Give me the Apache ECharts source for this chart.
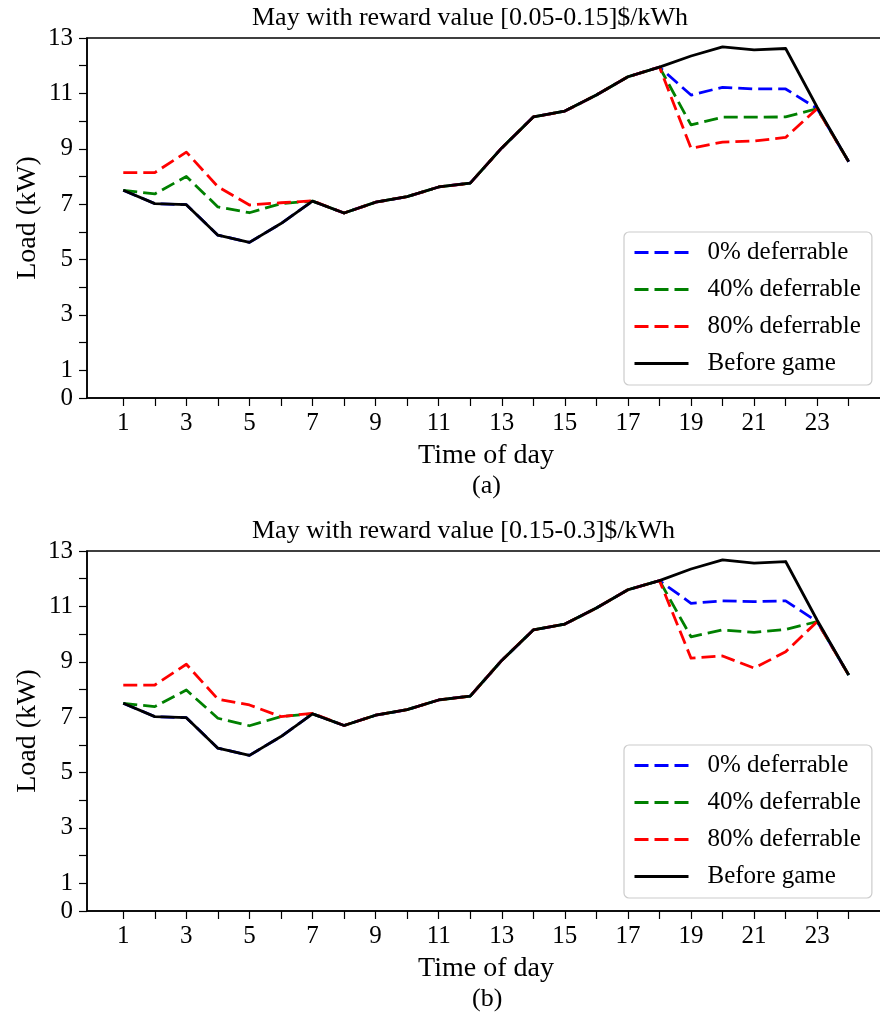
<!DOCTYPE html>
<html>
<head>
<meta charset="utf-8">
<script src="https://cdn.jsdelivr.net/npm/echarts@6/dist/echarts.min.js"></script>
<style>
html,body{margin:0;padding:0;background:#fff;overflow:hidden;}
#c{width:880px;height:1015px;}
</style>
</head>
<body>
<div id="c"></div>
<script>
const hours = [1,2,3,4,5,6,7,8,9,10,11,12,13,14,15,16,17,18,19,20,21,22,23,24];
const xTickValues = [1,2,3,4,5,6,7,8,9,10,11,12,13,14,15,16,17,18,19,20,21,22,23,24];
const xLabelValues = [1,3,5,7,9,11,13,15,17,19,21,23];
const yTickValues = [0,1,2,3,4,5,6,7,8,9,10,11,12,13];
const yLabelValues = [0,1,3,5,7,9,11,13];
const seriesNames = ['0% deferrable','40% deferrable','80% deferrable','Before game'];
const titleA = 'May with reward value [0.05-0.15]$/kWh';
const titleB = 'May with reward value [0.15-0.3]$/kWh';

// Panel (a)
const a_0   = [7.50,7.02,6.98,5.88,5.62,6.30,7.11,6.68,7.07,7.27,7.62,7.76,9.03,10.15,10.36,10.94,11.60,11.95,10.94,11.22,11.16,11.16,10.45,8.53];
const a_40  = [7.50,7.37,8.00,6.90,6.69,7.02,7.11,6.68,7.07,7.27,7.62,7.76,9.03,10.15,10.36,10.94,11.60,11.95,9.86,10.14,10.14,10.15,10.45,8.53];
const a_80  = [8.14,8.14,8.88,7.63,6.97,7.05,7.12,6.68,7.07,7.27,7.62,7.76,9.03,10.15,10.36,10.94,11.60,11.95,9.02,9.24,9.28,9.41,10.45,8.53];
const a_bef = [7.50,7.02,6.98,5.88,5.62,6.30,7.11,6.68,7.07,7.27,7.62,7.76,9.03,10.15,10.36,10.94,11.60,11.95,12.35,12.68,12.57,12.62,10.50,8.53];

// Panel (b)
const b_0   = [7.50,7.02,6.98,5.88,5.62,6.30,7.12,6.70,7.07,7.27,7.62,7.76,9.05,10.15,10.36,10.94,11.60,11.93,11.11,11.20,11.17,11.20,10.45,8.52];
const b_40  = [7.50,7.38,7.98,6.96,6.69,7.02,7.12,6.70,7.07,7.27,7.62,7.76,9.05,10.15,10.36,10.94,11.60,11.93,9.90,10.15,10.06,10.17,10.45,8.52];
const b_80  = [8.16,8.16,8.91,7.65,7.44,7.02,7.14,6.70,7.07,7.27,7.62,7.76,9.05,10.15,10.36,10.94,11.60,11.93,9.13,9.21,8.77,9.36,10.45,8.52];
const b_bef = [7.50,7.02,6.98,5.88,5.62,6.30,7.12,6.70,7.07,7.27,7.62,7.76,9.05,10.15,10.36,10.94,11.60,11.93,12.35,12.68,12.56,12.62,10.50,8.52];

const FONT = '"Liberation Serif", "DejaVu Serif", serif';
const colors = ['#0000ff','#008000','#ff0000','#000000'];

function pairs(vals){ return hours.map((h,i)=>[h, vals[i]]); }

function xAxisCfg(gi){
  return {
    type:'value', gridIndex:gi, min:-0.15, max:25.15,
    name:'Time of day', nameLocation:'middle', nameGap:44,
    nameTextStyle:{fontFamily:FONT, fontSize:28, color:'#000'},
    axisLine:{show:true, onZero:false, lineStyle:{color:'#000', width:1.5}},
    axisTick:{show:true, inside:false, length:8, lineStyle:{color:'#000', width:1.2}, customValues:xTickValues},
    axisLabel:{show:true, margin:13, fontFamily:FONT, fontSize:25, color:'#000', customValues:xLabelValues},
    splitLine:{show:false}
  };
}
function yAxisCfg(gi){
  return {
    type:'value', gridIndex:gi, min:0, max:13,
    name:'Load (kW)', nameLocation:'middle', nameGap:45, nameRotate:90, nameMoveOverlap:false,
    nameTextStyle:{fontFamily:FONT, fontSize:28, color:'#000'},
    axisLine:{show:true, onZero:false, lineStyle:{color:'#000', width:1.5}},
    axisTick:{show:true, inside:false, length:8, lineStyle:{color:'#000', width:1.2}, customValues:yTickValues},
    axisLabel:{show:true, margin:14, fontFamily:FONT, fontSize:25, color:'#000', customValues:yLabelValues},
    splitLine:{show:false}
  };
}
function seriesFor(gi, arrs){
  return arrs.map((vals,i)=>({
    type:'line', name:seriesNames[i], xAxisIndex:gi, yAxisIndex:gi,
    data:pairs(vals), symbol:'none', showSymbol:false, animation:false,
    lineStyle:{color:colors[i], width:2.8, type: i<3 ? [14,6] : 'solid', cap:'butt', join:'round'},
    itemStyle:{color:colors[i]}, z: 2+i
  }));
}
function legendCfg(top){
  return {
    orient:'vertical', left:624, top:top, data:seriesNames,
    itemWidth:54, itemHeight:14, itemGap:12,
    padding:[8,11,9,9],
    borderColor:'#cccccc', borderWidth:1.2, borderRadius:5, backgroundColor:'rgba(255,255,255,0.85)',
    textStyle:{fontFamily:FONT, fontSize:25, color:'#000', padding:[0,0,0,14]},
    itemStyle:{opacity:0},
    lineStyle:{width:3},
    selectedMode:false
  };
}

const chart = echarts.init(document.getElementById('c'), null, {renderer:'canvas'});
const option = {
  animation:false,
  backgroundColor:'#fff',
  title:[
    {text:titleA, left:247, top:0, textStyle:{fontFamily:FONT, fontSize:26, fontWeight:'normal', color:'#000'}},
    {text:titleB, left:247, top:513, textStyle:{fontFamily:FONT, fontSize:26, fontWeight:'normal', color:'#000'}}
  ],
  grid:[
    {left:87, top:38, width:798, height:360, show:true, borderColor:'#000', borderWidth:1.5, backgroundColor:'transparent', outerBoundsMode:'none', containLabel:false},
    {left:87, top:551, width:798, height:360, show:true, borderColor:'#000', borderWidth:1.5, backgroundColor:'transparent', outerBoundsMode:'none', containLabel:false}
  ],
  xAxis:[xAxisCfg(0), xAxisCfg(1)],
  yAxis:[yAxisCfg(0), yAxisCfg(1)],
  legend:[legendCfg(232), legendCfg(745)],
  series:[].concat(seriesFor(0,[a_0,a_40,a_80,a_bef]), seriesFor(1,[b_0,b_40,b_80,b_bef])),
  graphic:[
    {type:'text', left:472, top:473, style:{text:'(a)', font:'26px '+FONT, fill:'#000'}},
    {type:'text', left:472, top:986, style:{text:'(b)', font:'26px '+FONT, fill:'#000'}}
  ]
};
chart.setOption(option);
</script>
</body>
</html>
